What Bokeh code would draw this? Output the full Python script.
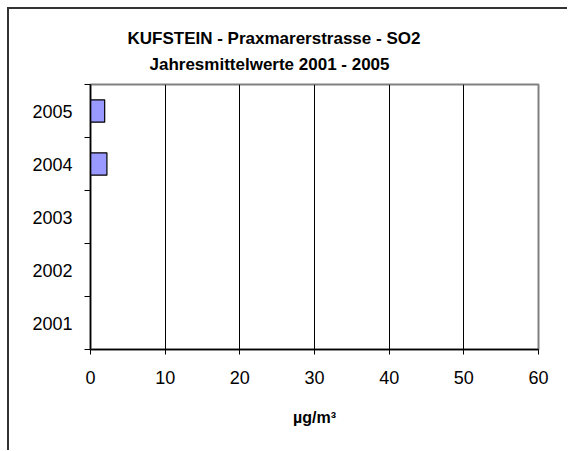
from bokeh.plotting import figure
from bokeh.models import FixedTicker, Title, ColumnDataSource, Range1d
from bokeh.embed import file_html
from bokeh.resources import INLINE

years = ["2001", "2002", "2003", "2004", "2005"]
values = [None, None, None, 2.2, 1.9]
x_ticks = [0, 10, 20, 30, 40, 50, 60]
title_line1 = "KUFSTEIN - Praxmarerstrasse - SO2"
title_line2 = "Jahresmittelwerte 2001 - 2005"
x_label = "µg/m³"

FONT = "Liberation Sans"

ypos = [i + 0.5 for i in range(len(years))]
vals = [float("nan") if v is None else v for v in values]
src = ColumnDataSource(data=dict(y=ypos, v=vals))

p = figure(width=560, height=443, output_backend="svg", toolbar_location=None,
           x_range=Range1d(0, 60), y_range=Range1d(0, len(years)),
           min_border_left=81, min_border_right=31, min_border_top=75, min_border_bottom=103)
p.styles = {"border-left": "2px solid #333333", "border-top": "2px solid #333333",
            "margin-left": "7px", "margin-top": "7px"}

p.hbar(y="y", right="v", left=0, height=0.42, source=src,
       fill_color="#9999FF", line_color="black", line_width=1.2)

p.outline_line_color = "#808080"
p.outline_line_width = 2

p.xgrid.grid_line_color = "black"
p.xgrid.grid_line_width = 1
p.ygrid.grid_line_color = None

p.xaxis.ticker = FixedTicker(ticks=x_ticks)
p.xaxis.major_tick_out = 5
p.xaxis.major_tick_in = 0
p.xaxis.minor_tick_line_color = None
p.xaxis.axis_line_color = "black"
p.xaxis.axis_line_width = 1.5
p.xaxis.major_label_text_font = FONT
p.xaxis.major_label_text_font_size = "18px"
p.xaxis.major_label_text_color = "black"
p.xaxis.major_label_standoff = 16
p.xaxis.axis_label = x_label
p.xaxis.axis_label_text_font = FONT
p.xaxis.axis_label_text_font_size = "16px"
p.xaxis.axis_label_text_font_style = "bold"
p.xaxis.axis_label_text_color = "black"
p.xaxis.axis_label_standoff = 22

p.yaxis.ticker = FixedTicker(ticks=ypos, minor_ticks=list(range(len(years) + 1)))
p.yaxis.major_label_overrides = {y: lab for y, lab in zip(ypos, years)}
p.yaxis.major_tick_out = 0
p.yaxis.major_tick_in = 0
p.yaxis.minor_tick_out = 6
p.yaxis.minor_tick_in = 0
p.yaxis.minor_tick_line_color = "black"
p.yaxis.axis_line_color = "black"
p.yaxis.axis_line_width = 1.5
p.yaxis.major_label_text_font = FONT
p.yaxis.major_label_text_font_size = "18px"
p.yaxis.major_label_text_color = "black"
p.yaxis.major_label_standoff = 12

t2 = Title(text=title_line2, align="left", text_font=FONT, text_font_size="17px",
           text_font_style="bold", text_color="black", offset=59, standoff=22)
t1 = Title(text=title_line1, align="left", text_font=FONT, text_font_size="17px",
           text_font_style="bold", text_color="black", offset=37, standoff=-12)
p.add_layout(t2, "above")
p.add_layout(t1, "above")

open("out.html", "w").write(file_html(p, INLINE))
